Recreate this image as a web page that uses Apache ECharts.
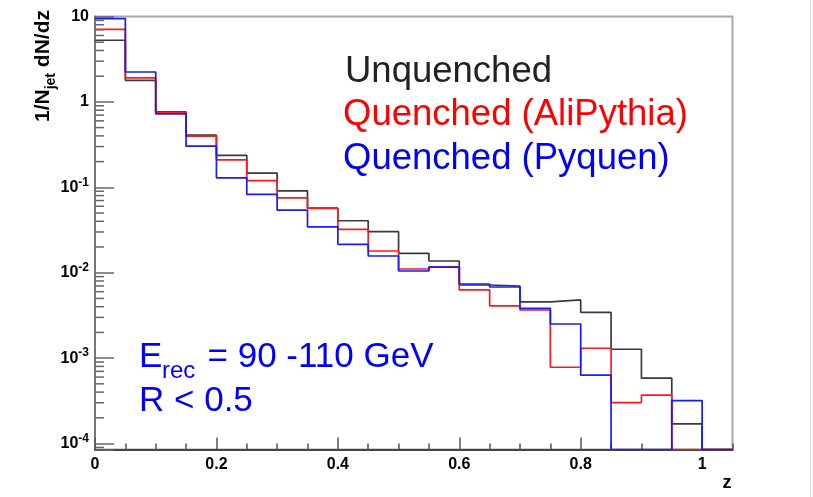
<!DOCTYPE html>
<html>
<head>
<meta charset="utf-8">
<script src="https://cdn.jsdelivr.net/npm/echarts@6/dist/echarts.min.js"></script>
<style>
html,body{margin:0;padding:0;background:#fff;}
#chart{width:813px;height:497px;}
</style>
</head>
<body>
<div id="chart"></div>
<script>
// ---- data ----
var binLowEdges = [0, 0.05, 0.1, 0.15, 0.2, 0.25, 0.3, 0.35, 0.4, 0.45, 0.5, 0.55, 0.6, 0.65, 0.7, 0.75, 0.8, 0.85, 0.9, 0.95, 1.0];
var lastEdge = 1.05;
var unquenched = [5.27, 1.79, 0.764, 0.408, 0.236, 0.1466, 0.091, 0.057, 0.0406, 0.0302, 0.01686, 0.01371, 0.00718, 0.00699, 0.00455, 0.0048, 0.00344, 0.00127, 0.000582, 0.00017, 0];
var quenchedAliPythia = [7.08, 1.91, 0.751, 0.397, 0.210, 0.120, 0.0754, 0.0566, 0.0322, 0.01795, 0.01105, 0.01175, 0.00628, 0.00408, 0.00366, 0.000782, 0.001305, 0.000302, 0.000368, 0, 0];
var quenchedPyquen = [9.45, 2.24, 0.724, 0.303, 0.129, 0.0826, 0.054, 0.0345, 0.0215, 0.0157, 0.01047, 0.0116, 0.00738, 0.0068, 0.00383, 0.00251, 0.000631, 0, 0, 0.000318, 0];
var legendNames = ['Unquenched', 'Quenched (AliPythia)', 'Quenched (Pyquen)'];
var xTickLabels = ['0', '0.2', '0.4', '0.6', '0.8', '1'];
var yMinorTickValues = [
  0.00009,
  0.0002, 0.0003, 0.0004, 0.0005, 0.0006, 0.0007, 0.0008, 0.0009,
  0.002, 0.003, 0.004, 0.005, 0.006, 0.007, 0.008, 0.009,
  0.02, 0.03, 0.04, 0.05, 0.06, 0.07, 0.08, 0.09,
  0.2, 0.3, 0.4, 0.5, 0.6, 0.7, 0.8, 0.9,
  2, 3, 4, 5, 6, 7, 8, 9
];

var Y_MIN = Math.pow(10, -4.07);
var Y_MAX = 10;
var FONT = '"Liberation Sans", Arial, Helvetica, sans-serif';

function histData(vals) {
  var d = [];
  for (var i = 0; i < vals.length; i++) {
    d.push([binLowEdges[i], vals[i] > 0 ? vals[i] : Y_MIN]);
  }
  var lastV = vals[vals.length - 1];
  d.push([lastEdge, lastV > 0 ? lastV : Y_MIN]);
  return d;
}

var chart = echarts.init(document.getElementById('chart'), null, {renderer: 'canvas'});

var option = {
  animation: false,
  backgroundColor: '#ffffff',
  grid: {
    left: 95, right: 80.5, top: 16.5, bottom: 47.5,
    show: true, borderColor: '#a8a8a8', borderWidth: 2, backgroundColor: 'transparent'
  },
  xAxis: [{
    type: 'value', min: 0, max: lastEdge, interval: 0.2,
    axisLine: {show: true, onZero: false, lineStyle: {color: '#444', width: 2}},
    axisTick: {show: true, inside: true, length: 12, lineStyle: {color: '#555', width: 1.5}},
    axisLabel: {
      show: true, margin: 7, color: '#000', fontSize: 16, fontWeight: 'bold', fontFamily: FONT,
      showMaxLabel: false,
      formatter: function (v) {
        var k = Math.round(v / 0.2);
        if (Math.abs(v - k * 0.2) > 1e-6) return '';
        return xTickLabels[k] !== undefined ? xTickLabels[k] : '';
      }
    },
    splitLine: {show: false}
  }, {
    type: 'value', min: 0, max: lastEdge, interval: 0.05, position: 'bottom',
    axisLine: {show: false},
    axisTick: {show: true, inside: true, length: 6, lineStyle: {color: '#555', width: 1.5}},
    axisLabel: {show: false},
    splitLine: {show: false}
  }],
  yAxis: {
    type: 'log', logBase: 10, min: Y_MIN, max: Y_MAX, splitNumber: 5,
    axisLine: {show: true, lineStyle: {color: '#777', width: 2}},
    axisTick: {show: true, inside: true, length: 19, lineStyle: {color: '#666', width: 1.5}},
    axisLabel: {
      show: true, margin: 6, color: '#000', fontFamily: FONT,
      formatter: function (v) {
        var e = Math.log(v) / Math.LN10;
        var r = Math.round(e);
        if (Math.abs(e - r) > 1e-6) return '';
        if (r === 0) return '{b|1}';
        if (r === 1) return '{b|10}';
        return '{b|10}{s|' + r + '}';
      },
      rich: {
        b: {fontSize: 16, fontWeight: 'bold', fontFamily: FONT, color: '#000', lineHeight: 16, verticalAlign: 'bottom'},
        s: {fontSize: 12, fontWeight: 'bold', fontFamily: FONT, color: '#000', lineHeight: 12, padding: [0, 0, 7, 0], verticalAlign: 'bottom'}
      }
    },
    splitLine: {show: false},
    minorTick: {show: false}
  },
  series: [
    {
      name: 'yMinorTicks', type: 'custom', coordinateSystem: 'cartesian2d', silent: true, z: 5,
      xAxisIndex: 0,
      data: yMinorTickValues.map(function (v) { return [0, v]; }),
      renderItem: function (params, api) {
        var p = api.coord([0, api.value(1)]);
        return {
          type: 'line',
          shape: {x1: p[0], y1: p[1], x2: p[0] + 9, y2: p[1]},
          style: {stroke: '#666', lineWidth: 1.5}
        };
      }
    },
    {
      name: legendNames[0], type: 'line', step: 'end', xAxisIndex: 0,
      data: histData(unquenched), showSymbol: false, z: 2,
      lineStyle: {color: '#3a3a3a', width: 1.7}, itemStyle: {color: '#3a3a3a'}
    },
    {
      name: legendNames[1], type: 'line', step: 'end', xAxisIndex: 0,
      data: histData(quenchedAliPythia), showSymbol: false, z: 3,
      lineStyle: {color: '#ff1a1a', width: 1.7}, itemStyle: {color: '#ff1a1a'}
    },
    {
      name: legendNames[2], type: 'line', step: 'end', xAxisIndex: 0,
      data: histData(quenchedPyquen), showSymbol: false, z: 4,
      lineStyle: {color: '#1a1aff', width: 1.7}, itemStyle: {color: '#1a1aff'}
    }
  ],
  graphic: [
    {type: 'line', shape: {x1: 810.5, y1: 0, x2: 810.5, y2: 497}, style: {stroke: '#e2e2e2', lineWidth: 1}},
    {type: 'text', x: 345, y: 71.5, style: {text: legendNames[0], fill: '#222', font: '36.5px ' + FONT, align: 'left', verticalAlign: 'middle'}},
    {type: 'text', x: 343, y: 115, style: {text: legendNames[1], fill: '#ff0000', font: '36.5px ' + FONT, align: 'left', verticalAlign: 'middle'}},
    {type: 'text', x: 343, y: 158.5, style: {text: legendNames[2], fill: '#0000ff', font: '36.5px ' + FONT, align: 'left', verticalAlign: 'middle'}},
    {type: 'text', x: 139, y: 357.7, style: {text: 'E', fill: '#0000ff', font: '35px ' + FONT, align: 'left', verticalAlign: 'middle'}},
    {type: 'text', x: 162, y: 371.6, style: {text: 'rec', fill: '#0000ff', font: '24px ' + FONT, align: 'left', verticalAlign: 'middle'}},
    {type: 'text', x: 207.5, y: 357.7, style: {text: '= 90 -110 GeV', fill: '#0000ff', font: '35px ' + FONT, align: 'left', verticalAlign: 'middle'}},
    {type: 'text', x: 139, y: 401.7, style: {text: 'R < 0.5', fill: '#0000ff', font: '35px ' + FONT, align: 'left', verticalAlign: 'middle'}},
    {type: 'text', x: 727, y: 483, style: {text: 'z', fill: '#000', font: 'bold 18px ' + FONT, align: 'center', verticalAlign: 'middle'}},
    {
      type: 'text', x: 43, y: 66, rotation: Math.PI / 2,
      style: {
        text: '{a|1/N}{s|jet}{a| dN/dz}', align: 'center', verticalAlign: 'middle',
        rich: {
          a: {fontSize: 21, fontWeight: 'bold', fontFamily: FONT, fill: '#000', lineHeight: 21, verticalAlign: 'top'},
          s: {fontSize: 14, fontWeight: 'bold', fontFamily: FONT, fill: '#000', lineHeight: 14, padding: [12, 0, 0, 0], verticalAlign: 'top'}
        }
      }
    }
  ]
};
chart.setOption(option);
</script>
</body>
</html>
